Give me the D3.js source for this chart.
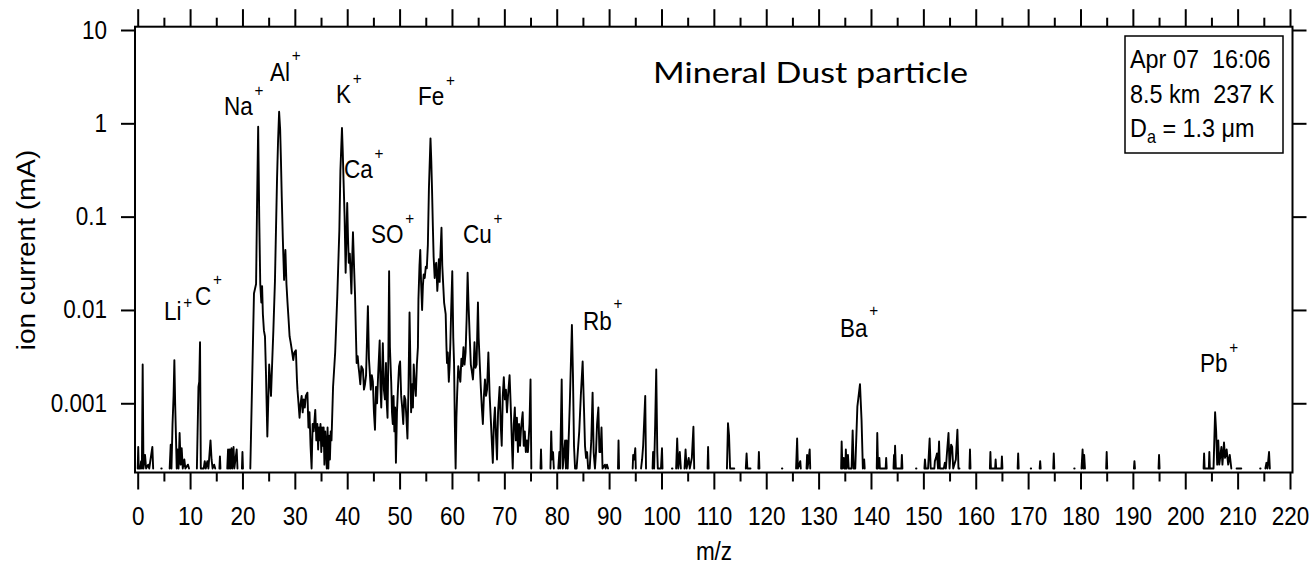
<!DOCTYPE html>
<html><head><meta charset="utf-8">
<script src="https://cdn.jsdelivr.net/npm/d3@7"></script>
<style>
html,body{margin:0;padding:0;background:#fff;}
svg text{font-family:"Liberation Sans",Arial,sans-serif;fill:#000;}
</style></head>
<body><svg id="chart" width="1309" height="567"></svg>
<script>
// ---------------- DATA ----------------
// [m/z, ion current (mA)]; null = gap in the trace (no signal)
const spectrumLow = [
 [0.0,1.5e-4],[0.1,3.4e-4],[0.2,1.5e-4],[0.5,1.5e-4],[0.65,2.4e-4],[0.8,1.5e-4],[0.95,2.6e-3],[1.1,1.5e-4],
 [1.4,2.8e-4],[1.6,1.5e-4],[2.0,2.2e-4],[2.2,1.5e-4],[2.8,3.4e-4],[2.95,1.5e-4],null,
 [4.5,1.5e-4],[4.58,1.5e-4],null,
 [6.1,1.5e-4],[6.3,3.6e-4],[6.45,1.5e-4],[6.65,6e-4],[6.85,1.2e-3],[7.0,2.9e-3],[7.15,1.0e-3],[7.3,4.5e-4],[7.45,2.0e-4],
 [7.6,3.2e-4],[7.8,1.8e-4],[8.0,4.8e-4],[8.2,2.2e-4],[8.4,3.3e-4],[8.6,1.5e-4],[8.9,2.5e-4],[9.1,1.5e-4],[9.6,2.2e-4],[9.8,1.5e-4],null,
 [11.3,1.5e-4],[11.6,1.5e-3],[11.75,1.7e-3],[11.9,4.5e-3],[12.05,1.5e-4],[12.6,1.5e-4],[12.8,2.4e-4],[13.0,1.5e-4],
 [13.3,2.4e-4],[13.5,1.5e-4],[13.9,4.0e-4],[14.1,2.5e-4],[14.3,1.5e-4],[14.6,2.2e-4],[14.8,1.5e-4],null,
 [15.6,1.5e-4],[15.7,2.7e-4],[15.8,1.5e-4],null,
 [17.1,1.5e-4],[17.25,3.2e-4],[17.4,1.5e-4],[17.55,3.2e-4],[17.7,1.5e-4],[17.9,3.3e-4],[18.05,1.5e-4],
 [18.3,3.4e-4],[18.45,1.5e-4],[18.9,3.2e-4],[19.05,1.5e-4],null,
 [19.9,1.5e-4],[20.0,3.0e-4],[20.1,1.5e-4],null
];
const spectrumNaAl = [
 [21.5,1.5e-4],[22.2,0.015],[22.6,0.019],[22.8,0.15],[23.0,0.92],[23.2,0.1],[23.4,0.019],[23.6,0.012],[23.75,0.018],
 [23.9,0.009],[24.1,6e-3],[24.3,5.2e-3],[24.5,2e-3],[24.75,4.4e-4],[25.0,1.5e-3],[25.1,2.6e-3],[25.3,1.7e-3],
 [25.45,1.2e-3],[25.7,3e-3],[25.9,6e-3],[26.2,0.02],[26.4,0.072],[26.6,0.25],[26.8,0.66],[27.0,1.33],[27.2,0.85],
 [27.35,0.4],[27.5,0.165],[27.7,0.06],[27.95,0.021],[28.2,0.044],[28.4,0.019],[28.6,0.012],[28.8,8e-3],[29.0,5.2e-3],
 [29.2,4.5e-3],[29.4,3.8e-3],[29.7,2.9e-3],[29.9,3.5e-3],[30.2,3.7e-3],[30.4,1.8e-3],[30.5,1.4e-3],[30.7,1.0e-3],
 [30.9,7e-4],[31.1,1.0e-3],[31.3,1.2e-3],[31.5,8e-4],[31.7,1.1e-3],[31.9,9e-4],[32.1,1.2e-3],[32.4,1.3e-3],
 [32.6,5.5e-4],[32.8,8e-4],[33.0,3.5e-4],[33.2,1.6e-4],[33.4,6e-4],[33.6,5e-4],[33.9,8.5e-4],[34.1,4e-4],[34.3,6e-4],
 [34.45,3.2e-4],[34.6,5.5e-4],[34.75,4e-4],[34.9,6e-4],[35.05,3e-4],[35.2,5.5e-4],[35.35,3.5e-4],[35.5,5.5e-4],
 [35.65,2.2e-4],[35.8,5e-4],[35.95,3.5e-4],[36.1,1.6e-4],[36.25,5.5e-4],[36.4,1.6e-4],[36.55,4.5e-4],[36.7,2.5e-4],
 [36.85,5e-4],[37.0,4e-4]
];
const spectrumKFe = [
 [37.0,4e-4],[37.3,1.5e-3],[37.7,3.5e-3],[38.1,0.0138],[38.5,0.072],[38.7,0.31],[39.0,0.89],[39.15,0.5],[39.3,0.245],
 [39.5,0.1],[39.7,0.025],[39.85,0.06],[40.0,0.14],[40.15,0.06],[40.3,0.032],[40.5,0.04],[40.65,0.025],[40.8,0.015],
 [40.95,0.035],[41.1,0.068],[41.3,0.03],[41.5,0.014],[41.65,6e-3],[41.8,2.7e-3],[42.0,3.2e-3],[42.15,2.5e-3],
 [42.3,2.1e-3],[42.5,1.6e-3],[42.7,2.5e-3],[43.0,2.3e-3],[43.2,1.4e-3],[43.4,1.6e-3],[43.6,2e-3],[43.95,0.011],
 [44.15,3e-3],[44.3,2.2e-3],[44.5,1.4e-3],[44.7,2e-3],[44.9,1.7e-3],[45.1,8e-4],[45.3,5.2e-4],[45.5,1.5e-3],
 [45.7,1.0e-3],[45.9,2e-3],[46.2,4.7e-3],[46.35,1.5e-3],[46.5,9e-4],[46.65,2e-3],[46.8,4.4e-3],[47.0,1.4e-3],
 [47.2,1.1e-3],[47.4,2.7e-3],[47.55,1.0e-3],[47.7,7e-4],[47.85,3e-3],[48.0,0.026],[48.15,4e-3],[48.4,1.7e-3],
 [48.55,8e-4],[48.7,6e-4],[48.85,1.2e-3],[49.0,5e-4],[49.15,9e-4],[49.3,2.3e-4],[49.5,8e-4],[49.7,1.5e-3],
 [49.9,2.5e-3],[50.1,2.8e-3],[50.3,1.2e-3],[50.5,9e-4],[50.7,6e-4],[50.9,1.2e-3],[51.1,1.1e-3],[51.3,7e-4],
 [51.5,4.2e-4],[51.7,1.5e-3],[51.9,9.4e-3],[52.05,3e-3],[52.2,8e-4],[52.4,1.6e-3],[52.55,9e-4],[52.7,2.6e-3],
 [52.9,1.6e-3],[53.1,1.2e-3],[53.3,2.6e-3],[53.5,4e-3],[53.6,0.013],[53.8,0.03],[53.95,0.044],[54.1,0.02],
 [54.3,0.01],[54.45,0.018],[54.6,0.024],[54.8,0.022],[55.0,0.029],[55.2,0.028],[55.4,0.05],[55.6,0.2],[55.9,0.69],
 [56.05,0.4],[56.2,0.19],[56.35,0.08],[56.5,0.037],[56.7,0.022],[56.85,0.03],[57.0,0.032],[57.2,0.016],[57.35,0.022],
 [57.5,0.035],[57.65,0.02],[57.8,0.04],[58.0,0.076],[58.15,0.03],[58.3,0.02],[58.5,0.012],[58.8,0.009],[58.95,4e-3],
 [59.05,2.7e-3],[59.2,3.5e-3],[59.4,1.7e-3],[59.55,2.5e-3],[59.7,4.5e-3],[59.85,0.01],[60.06,0.026],[60.25,5e-3],
 [60.4,2.7e-3],[60.55,6e-4],[60.7,1.6e-4],[60.85,7e-4]
];
const spectrumCu = [
 [60.85,7e-4],[61.0,1.3e-3],[61.2,2.5e-3],[61.4,2e-3],[61.6,1.7e-3],[61.8,3e-3],[62.0,2.5e-3],[62.2,4e-3],[62.4,2.6e-3],
 [62.6,3.5e-3],[62.8,8e-3],[62.99,0.025],[63.15,0.012],[63.4,5e-3],[63.6,2.6e-3],[63.8,2.2e-3],[64.0,1.8e-3],
 [64.15,2.5e-3],[64.3,4.5e-3],[64.5,2.4e-3],[64.7,2.6e-3],[64.96,0.012],[65.1,5e-3],[65.3,2.7e-3],[65.5,1.5e-3],
 [65.7,9e-4],[65.9,6e-4],[66.1,1.2e-3],[66.3,1.8e-3],[66.5,1.2e-3],[66.7,1.4e-3],[66.95,3.5e-3],[67.2,1.2e-3],
 [67.4,7e-4],[67.6,4e-4],[67.8,2.3e-4],[68.0,6e-4],[68.2,9e-4],[68.4,4.6e-4],[68.6,2.5e-4],[68.8,8e-4],[69.1,1.5e-3],
 [69.3,6e-4],[69.5,3.5e-4],[69.7,1.2e-3],[69.9,1.9e-3],[70.1,1.1e-3],[70.3,1.4e-3],[70.5,8e-4],[70.7,1.2e-3],
 [71.0,2e-3],[71.2,1.0e-3],[71.4,4.5e-4],[71.6,2e-4],[71.8,6e-4],[72.0,9e-4],[72.2,4e-4],[72.4,7e-4],[72.6,3e-4],
 [72.8,6e-4],[73.0,3.5e-4],[73.2,5.5e-4],[73.5,8e-4],[73.7,3.5e-4],[73.9,5e-4],[74.1,3e-4],[74.3,4e-4],[74.5,3e-4],
 [74.8,6e-4],[75.0,1.8e-3],[75.15,1.5e-4],null
];
const spectrumRb = [
 [76.9,1.5e-4],[77.0,3.2e-4],[77.1,1.5e-4],null,
 [78.8,1.5e-4],[78.95,5e-4],[79.1,2.5e-4],[79.3,3e-4],[79.45,1.5e-4],null,
 [80.3,1.5e-4],[80.5,3e-4],[80.65,1.6e-4],[80.95,1.8e-3],[81.15,1.5e-4],[81.6,4e-4],[81.75,1.6e-4],[81.9,4e-4],
 [82.1,1.5e-4],[82.5,1e-3],[82.9,6.9e-3],[83.1,2e-3],[83.3,3.5e-4],[83.5,1.7e-4],[83.8,1.5e-4],[84.3,5e-4],
 [84.6,1.2e-3],[84.95,2.8e-3],[85.2,9e-4],[85.4,3.5e-4],[85.6,2.6e-4],[85.8,3e-4],[86.0,1.8e-4],[86.3,1.6e-4],
 [86.6,4e-4],[86.85,1.3e-3],[87.05,3e-4],[87.3,2e-4],[87.5,3e-4],[87.7,6e-4],[87.95,9e-4],[88.15,3e-4],[88.35,3e-4],
 [88.55,5.5e-4],[88.75,1.5e-4],[89.2,2.2e-4],[89.35,1.5e-4],[89.6,2.2e-4],[89.8,1.5e-4],null,
 [91.7,1.5e-4],[91.8,4e-4],[91.9,1.5e-4],null,
 [94.5,1.5e-4],[94.6,2.8e-4],[94.8,2.5e-4],[95.0,3.3e-4],[95.1,1.5e-4],null,
 [96.1,1.5e-4],[96.3,2.5e-4],[96.5,3.5e-4],[96.9,1.2e-3],[97.05,1.5e-4],null,
 [98.3,1.5e-4],[98.4,3e-4],[98.6,1.5e-4],[98.8,6e-4],[99.0,2.3e-3],[99.2,3e-4],[99.3,1.6e-4],[99.9,1.5e-4],
 [100.1,3.3e-4],[100.2,1.5e-4],null,
 [102.0,1.6e-4],[102.1,2e-4],null,
 [102.8,1.5e-4],[103.0,4.2e-4],[103.2,1.5e-4],[103.5,3e-4],[103.7,1.5e-4],null,
 [104.4,1.5e-4],[104.6,3.2e-4],[104.8,1.5e-4],[105.2,2.6e-4],[105.4,1.5e-4],[105.8,2.6e-4],[106.1,5.6e-4],[106.25,1.5e-4],null,
 [108.8,1.5e-4],[108.9,3.4e-4],[109.0,1.5e-4],null,
 [112.5,1.5e-4],[112.7,6.1e-4],[112.9,4.5e-4],[113.1,1.6e-4],[113.5,1.5e-4],[113.7,1.9e-4],[113.9,1.5e-4],null,
 [116.1,1.5e-4],[116.25,2.9e-4],[116.4,1.5e-4],[116.9,2e-4],[117.0,1.5e-4],null,
 [118.5,1.5e-4],[118.6,3e-4],[118.7,1.5e-4],null,
 [123.0,1.6e-4],[123.08,1.6e-4],null,
 [125.7,1.5e-4],[125.9,4.2e-4],[126.05,1.5e-4],[126.5,2.4e-4],[126.6,1.5e-4],null,
 [127.7,1.5e-4],[127.8,2.8e-4],[127.9,1.5e-4],[128.3,3.2e-4],[128.4,1.5e-4],null
];
const spectrumHeavy = [
 [134.3,1.5e-4],[134.4,3.9e-4],[134.55,1.6e-4],[134.8,2.6e-4],[134.9,1.5e-4],[135.1,1.5e-4],[135.2,3.2e-4],[135.35,1.5e-4],
 [135.6,2.8e-4],[135.75,1.5e-4],[136.3,1.5e-4],[136.5,5.1e-4],[136.7,1.5e-4],[137.0,1.5e-4],[137.4,9.2e-4],[137.9,1.6e-3],
 [138.2,6.6e-4],[138.45,1.5e-4],[138.7,2.5e-4],[138.8,1.5e-4],null,
 [141.1,1.5e-4],[141.2,4.8e-4],[141.35,1.5e-4],[141.6,2.6e-4],[141.7,1.5e-4],[142.8,1.5e-4],[142.9,2.6e-4],[143.0,1.5e-4],null,
 [144.3,1.5e-4],[144.4,2.8e-4],[144.5,1.5e-4],[144.6,3.5e-4],[144.75,1.5e-4],[145.8,1.5e-4],[145.9,2.8e-4],[146.0,1.5e-4],null,
 [148.6,1.6e-4],[148.68,1.6e-4],null,
 [150.2,1.5e-4],[150.3,2.5e-4],[150.45,1.5e-4],[150.9,1.5e-4],[151.2,4.2e-4],[151.4,1.5e-4],[152.1,1.5e-4],[152.2,2.4e-4],
 [152.4,2.6e-4],[152.6,2.9e-4],[152.8,1.5e-4],[153.0,3.9e-4],[153.15,1.5e-4],[153.9,1.5e-4],[154.1,2.3e-4],[154.3,1.5e-4],
 [154.5,2.9e-4],[154.8,4.8e-4],[155.0,1.6e-4],[155.3,3.6e-4],[155.5,3.4e-4],[155.7,1.6e-4],[156.2,2.5e-4],[156.5,5.2e-4],
 [156.7,2e-4],[156.9,1.5e-4],null,
 [158.8,1.5e-4],[158.9,3.2e-4],[159.0,1.5e-4],null,
 [162.7,1.5e-4],[162.8,3e-4],[162.9,1.5e-4],[163.7,1.5e-4],[163.8,2.5e-4],[163.9,1.5e-4],[164.9,1.5e-4],[165.0,2.7e-4],[165.1,1.5e-4],null,
 [168.0,1.5e-4],[168.1,2.9e-4],[168.2,1.5e-4],null,
 [170.5,1.6e-4],[170.58,1.6e-4],null,
 [172.2,1.5e-4],[172.3,2.4e-4],[172.4,1.5e-4],null,
 [174.8,1.5e-4],[174.9,2.9e-4],[175.0,1.5e-4],null,
 [178.8,1.6e-4],[178.88,1.6e-4],null,
 [180.2,1.5e-4],[180.4,3.2e-4],[180.55,1.5e-4],[180.7,2.8e-4],[180.85,1.5e-4],null,
 [184.9,1.5e-4],[185.0,3e-4],[185.1,1.5e-4],null,
 [190.2,1.5e-4],[190.3,2.4e-4],[190.4,1.5e-4],null,
 [194.9,1.5e-4],[195.0,2.8e-4],[195.1,1.5e-4],null,
 [203.5,1.5e-4],[203.6,2.9e-4],[203.7,1.5e-4],[204.5,1.5e-4],[204.6,3e-4],[204.7,1.5e-4],[205.4,1.5e-4],[205.7,8e-4],
 [205.9,5e-4],[206.1,2.2e-4],[206.3,4e-4],[206.5,2.2e-4],[206.9,3.4e-4],[207.1,2.2e-4],[207.4,3.8e-4],[207.6,2.6e-4],
 [207.9,3.2e-4],[208.2,2.2e-4],[208.5,2.8e-4],[208.8,1.5e-4],null,
 [209.8,1.5e-4],[210.0,1.8e-4],[210.3,1.8e-4],[210.6,1.8e-4],[210.7,1.5e-4],null,
 [214.3,1.6e-4],[214.38,1.6e-4],null,
 [215.3,1.5e-4],[215.5,2.3e-4],[215.7,1.6e-4],[216.0,3e-4],[216.15,1.5e-4],null
];
const xMajorTicks = d3.range(0, 221, 10);
const xMinorTicks = d3.range(5, 220, 10);
const yTicks = [1e-3, 1e-2, 1e-1, 1, 10];
const ionNames = ['Li','C','Na','Al','K','Ca','SO','Fe','Cu','Rb','Ba','Pb'];
const infoLines = ['Apr 07  16:06', '8.5 km  237 K'];
const infoDiameter = {symbol:'D', sub:'a', rest:' = 1.3 \u03bcm'};
const titleText = 'Mineral Dust particle';
const xTitle = 'm/z';
const yTitle = 'ion current (mA)';

// ---------------- LAYOUT ----------------
const frame = {left:135, right:1292.5, top:26.7, bottom:472.5};
// label anchor: [x, baseline y, superscript dy]
const ionLabelLayout = [[164,320,-12],[195,305,-20],[224,115,-19],[270,81,-20],[336,103,-19],[344,178,-19],
  [371,243,-19],[418,105,-19],[463,243,-19],[583,330,-21],[840,337,-21],[1200,372,-19]];

const svg = d3.select('#chart');
const x = d3.scaleLinear().domain([0, 220]).range([137.7, 1290]);
const y = d3.scaleLog().domain([2e-4, 10]).range([468.5, 30]).clamp(true);

// spectrum
const allPoints = [].concat(spectrumLow, [null], spectrumNaAl, spectrumKFe, spectrumCu, spectrumRb, [null], spectrumHeavy);
const line = d3.line().defined(d => d !== null).x(d => x(d[0])).y(d => y(d[1]));
svg.append('path').attr('d', line(allPoints)).attr('fill','none').attr('stroke','#000')
  .attr('stroke-width',1.9).attr('stroke-linejoin','round').attr('stroke-linecap','round');

// frame
svg.append('rect').attr('x',frame.left).attr('y',frame.top).attr('width',frame.right-frame.left)
  .attr('height',frame.bottom-frame.top).attr('fill','none').attr('stroke','#000').attr('stroke-width',2);

function styleAxis(g){
  g.attr('font-size',null).attr('font-family',null);
  g.select('.domain').remove();
  g.selectAll('.tick line').attr('stroke','#000').attr('stroke-width',2);
}
// bottom
const gB = svg.append('g').attr('transform',`translate(0,${frame.bottom})`)
  .call(d3.axisBottom(x).tickValues(xMajorTicks).tickSize(17).tickSizeOuter(0).tickPadding(18).tickFormat(d3.format('d')));
styleAxis(gB);
gB.selectAll('.tick text').attr('font-size',25).attr('transform','scale(0.9,1)');
const gBm = svg.append('g').attr('transform',`translate(0,${frame.bottom})`)
  .call(d3.axisBottom(x).tickValues(xMinorTicks).tickSize(9).tickSizeOuter(0).tickFormat(''));
styleAxis(gBm);
// top
const gT = svg.append('g').attr('transform',`translate(0,${frame.top})`)
  .call(d3.axisTop(x).tickValues(xMajorTicks).tickSize(17.5).tickSizeOuter(0).tickFormat(''));
styleAxis(gT);
const gTm = svg.append('g').attr('transform',`translate(0,${frame.top})`)
  .call(d3.axisTop(x).tickValues(xMinorTicks).tickSize(9).tickSizeOuter(0).tickFormat(''));
styleAxis(gTm);
// left
const gL = svg.append('g').attr('transform',`translate(${frame.left},0)`)
  .call(d3.axisLeft(y).tickValues(yTicks).tickSize(14).tickSizeOuter(0).tickPadding(17).tickFormat(d => String(d)));
styleAxis(gL);
gL.selectAll('.tick text').attr('font-size',25).attr('transform','scale(0.9,1)');
// right
const gR = svg.append('g').attr('transform',`translate(${frame.right},0)`)
  .call(d3.axisRight(y).tickValues(yTicks).tickSize(14).tickSizeOuter(0).tickFormat(''));
styleAxis(gR);

// axis titles
svg.append('text').attr('transform','translate(714,560) scale(0.9,1)').attr('text-anchor','middle')
  .attr('font-size',25).text(xTitle);
svg.append('text').attr('transform','translate(35,250) rotate(-90) scale(1,0.9)').attr('text-anchor','middle')
  .attr('font-size',28).text(yTitle);

// title
svg.append('text').attr('x',653).attr('y',83).attr('font-size',29)
  .style('font-family','Lato, "Open Sans", sans-serif')
  .attr('textLength',315).attr('lengthAdjust','spacingAndGlyphs').text(titleText);

// ion labels
ionNames.forEach((name,i) => {
  const [lx,ly,sdy] = ionLabelLayout[i];
  const t = svg.append('text').attr('transform',`translate(${lx},${ly}) scale(0.9,1)`).attr('font-size',25);
  t.append('tspan').text(name);
  t.append('tspan').attr('dx',2).attr('dy',sdy).attr('font-size',17).text('+');
});

// info box
svg.append('rect').attr('x',1125).attr('y',36).attr('width',158).attr('height',117)
  .attr('fill','#fff').attr('stroke','#000').attr('stroke-width',1.5);
infoLines.forEach((s,i) => {
  svg.append('text').attr('transform',`translate(1130,${68+i*35}) scale(0.9,1)`).attr('font-size',26)
    .attr('xml:space','preserve').style('white-space','pre').text(s);
});
const t3 = svg.append('text').attr('transform','translate(1130,137) scale(0.9,1)').attr('font-size',26)
  .attr('xml:space','preserve').style('white-space','pre');
t3.append('tspan').text(infoDiameter.symbol);
t3.append('tspan').attr('dy',6).attr('font-size',18).text(infoDiameter.sub);
t3.append('tspan').attr('dy',-6).text(infoDiameter.rest);
</script>
</body></html>
